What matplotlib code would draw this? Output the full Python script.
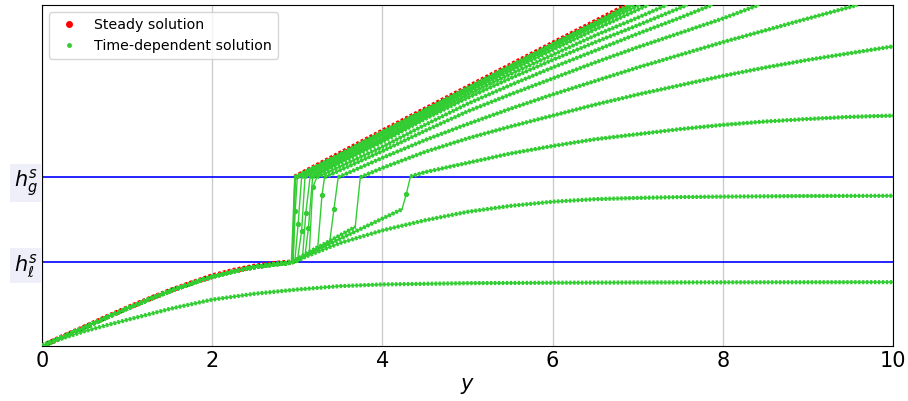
import matplotlib.pyplot as plt
from matplotlib.lines import Line2D

h_l = 1.0
h_g = 2.0

# steady solution
steady_lo_y = [0, 0.25, 0.5, 0.75, 1.0, 1.25, 1.5, 1.75, 2.0, 2.25, 2.5, 2.75, 2.95]
steady_lo_h = [0, 0.115, 0.225, 0.34, 0.45, 0.555, 0.655, 0.745, 0.83, 0.895, 0.945, 0.98, 0.995]
steady_hi_y = [2.97, 4.0, 5.0, 6.0, 6.9]
steady_hi_h = [2.0, 2.545, 3.065, 3.585, 4.05]

# common rising part of the time-dependent solutions
rise_y = [0, 0.25, 0.5, 0.75, 1.0, 1.25, 1.5, 1.75, 2.0, 2.25, 2.5, 2.75, 2.9]
rise_h = [0, 0.11, 0.22, 0.335, 0.445, 0.55, 0.65, 0.74, 0.82, 0.885, 0.935, 0.97, 0.985]

# earliest profile (no front)
c1_y = [0, 0.25, 0.5, 0.75, 1.0, 1.5, 2.0, 2.5, 3.0, 3.5, 4.0, 5.0, 6.0, 7.0, 8.0, 9.0, 10.0]
c1_h = [0, 0.095, 0.175, 0.245, 0.31, 0.44, 0.55, 0.62, 0.67, 0.71, 0.73, 0.745, 0.75, 0.753, 0.755, 0.756, 0.757]

# second profile (continues past h_l, no front)
c2_y = [3.0, 3.5, 4.0, 4.5, 5.0, 5.5, 6.0, 6.5, 7.0, 7.5, 8.0, 9.0, 10.0]
c2_h = [1.02, 1.22, 1.37, 1.49, 1.59, 1.66, 1.71, 1.74, 1.755, 1.765, 1.77, 1.778, 1.78]

# profiles with a front: before the jump, inside it, after it
pre_y = [[3.0, 3.5, 4.0, 4.23], [3.0, 3.3, 3.68], [3.0, 3.2, 3.38], [3.0, 3.24],
         [3.0, 3.14], [3.0, 3.09], [3.0, 3.06], [3.0], [2.97], [2.95], [2.94], [2.93]]
pre_h = [[1.02, 1.27, 1.51, 1.62], [1.03, 1.20, 1.41], [1.03, 1.13, 1.23], [1.03, 1.17],
         [1.02, 1.10], [1.02, 1.07], [1.01, 1.04], [1.01], [1.0], [0.995], [0.995], [0.995]]
mid_y = [[4.28], [], [3.43], [3.29], [3.18], [3.13], [3.10], [3.05], [3.01], [2.975], [], []]
mid_h = [[1.80], [], [1.62], [1.79], [1.88], [1.40], [1.58], [1.36], [1.45], [1.60], [], []]
post_y = [
    [4.33, 4.5, 5.0, 5.5, 6.0, 6.5, 7.0, 7.5, 8.0, 8.5, 9.0, 9.5, 10.0],
    [3.74, 4.0, 4.5, 5.0, 5.5, 6.0, 6.5, 7.0, 7.5, 8.0, 8.5, 9.0, 9.5, 10.0],
    [3.48, 4.0, 4.5, 5.0, 5.5, 6.0, 6.5, 7.0, 7.5, 8.0, 8.5, 9.0, 9.58],
    [3.32, 4.0, 4.5, 5.0, 5.5, 6.0, 6.5, 7.0, 7.5, 8.0, 8.42],
    [3.23, 4.0, 4.5, 5.0, 5.5, 6.0, 6.5, 7.0, 7.5, 7.87],
    [3.18, 3.5, 4.0, 4.5, 5.0, 5.5, 6.0, 6.5, 7.0, 7.58],
    [3.15, 3.5, 4.0, 4.5, 5.0, 5.5, 6.0, 6.5, 7.0, 7.34],
    [3.09, 3.5, 4.0, 4.5, 5.0, 5.5, 6.0, 6.5, 7.12],
    [3.05, 3.5, 4.0, 4.5, 5.0, 5.5, 6.0, 6.5, 7.02],
    [3.0, 3.5, 4.0, 4.5, 5.0, 5.5, 6.0, 6.5, 6.95],
    [2.98, 3.5, 4.0, 4.5, 5.0, 5.5, 6.0, 6.5, 6.92],
    [2.97, 3.5, 4.0, 4.5, 5.0, 5.5, 6.0, 6.5, 6.91],
]
post_h = [
    [2.01, 2.06, 2.17, 2.28, 2.37, 2.45, 2.51, 2.57, 2.62, 2.66, 2.69, 2.715, 2.73],
    [2.0, 2.11, 2.30, 2.46, 2.60, 2.73, 2.86, 2.98, 3.09, 3.20, 3.30, 3.39, 3.47, 3.55],
    [2.0, 2.23, 2.44, 2.63, 2.81, 2.98, 3.14, 3.30, 3.45, 3.60, 3.74, 3.88, 4.04],
    [2.0, 2.31, 2.55, 2.78, 2.98, 3.17, 3.36, 3.54, 3.71, 3.88, 4.04],
    [2.0, 2.36, 2.62, 2.87, 3.09, 3.30, 3.50, 3.70, 3.89, 4.04],
    [2.0, 2.17, 2.42, 2.69, 2.94, 3.17, 3.39, 3.60, 3.80, 4.04],
    [2.0, 2.19, 2.45, 2.72, 2.98, 3.22, 3.45, 3.68, 3.89, 4.04],
    [2.0, 2.21, 2.47, 2.74, 3.01, 3.26, 3.51, 3.75, 4.04],
    [2.0, 2.23, 2.50, 2.76, 3.03, 3.29, 3.54, 3.79, 4.04],
    [2.0, 2.25, 2.52, 2.78, 3.04, 3.30, 3.56, 3.81, 4.04],
    [2.0, 2.26, 2.53, 2.79, 3.05, 3.31, 3.57, 3.82, 4.04],
    [2.0, 2.27, 2.535, 2.795, 3.055, 3.315, 3.575, 3.83, 4.04],
]

green = '#32cd32'

fig = plt.figure(figsize=(9.08, 4.01), dpi=100)
ax = fig.add_axes([0.0463, 0.137, 0.9372, 0.8505])


def beads(y, h, color, zorder, thick=3.0):
    ax.plot(y, h, color=color, lw=1.2, zorder=zorder)
    ax.plot(y, h, color=color, lw=thick, dashes=(0.55, 0.4), dash_capstyle='butt', zorder=zorder)


# steady solution underneath
ax.plot(steady_lo_y + steady_hi_y, steady_lo_h + steady_hi_h, color='red', lw=1.0, zorder=3)
beads(steady_lo_y, steady_lo_h, 'red', 3, thick=3.8)
beads(steady_hi_y, steady_hi_h, 'red', 3, thick=3.8)

# time-dependent profiles
beads(c1_y, c1_h, green, 4)
beads(rise_y + c2_y, rise_h + c2_h, green, 4)
for i in range(len(post_y)):
    ys = rise_y + pre_y[i] + mid_y[i] + post_y[i]
    hs = rise_h + pre_h[i] + mid_h[i] + post_h[i]
    ax.plot(ys, hs, color=green, lw=1.0, zorder=4)
    beads(rise_y + pre_y[i], rise_h + pre_h[i], green, 4)
    beads(post_y[i], post_h[i], green, 4)
    ax.plot(mid_y[i], mid_h[i], 'o', color=green, ms=2.8, zorder=4)

ax.axhline(h_l, color='blue', lw=1.2, zorder=2)
ax.axhline(h_g, color='blue', lw=1.2, zorder=2)

ax.set_xlim(0, 10)
ax.set_ylim(0, 4.04)
ax.set_xticks([0, 2, 4, 6, 8, 10])
ax.set_yticks([h_l, h_g], [r'$h_\ell^s$', r'$h_g^s$'])
ax.tick_params(length=0, labelsize=15)
ax.tick_params(axis='y', pad=3)
for lbl in ax.get_yticklabels():
    lbl.set_bbox(dict(facecolor='#eeeff9', edgecolor='none', pad=2.5))
ax.grid(axis='x', color='#cccccc', lw=1)
ax.set_axisbelow(True)
ax.set_xlabel(r'$y$', fontsize=15)

handles = [Line2D([], [], ls='none', marker='.', color='red', ms=8),
           Line2D([], [], ls='none', marker='.', color=green, ms=5)]
ax.legend(handles, ['Steady solution', 'Time-dependent solution'], loc='upper left', fontsize=10.2)

fig.savefig('out.png', dpi=100)
